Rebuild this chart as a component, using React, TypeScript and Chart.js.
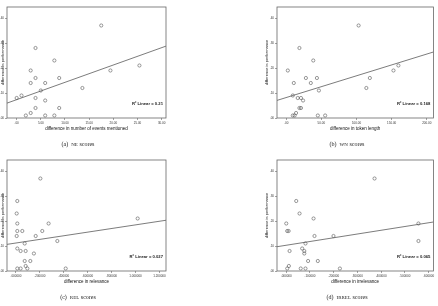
import React, { useEffect, useRef } from "react";
import { Chart, registerables } from "chart.js";

Chart.register(...registerables);

// Shared y axis: difference in performance
const perfTicks = [0, 0.1, 0.2, 0.3, 0.4];
const perfTickLabels = [".00", ".10", ".20", ".30", ".40"];

// (a) NE scores
const neEvents = [0, 1.0, 1.9, 2.9, 2.9, 2.9, 3.9, 3.9, 3.9, 3.9, 5.0, 5.9, 5.9, 5.9, 7.8, 7.8, 8.8, 8.8, 13.6, 17.5, 19.4, 25.4];
const nePerf = [0.08, 0.09, 0.01, 0.19, 0.14, 0.02, 0.28, 0.16, 0.08, 0.04, 0.11, 0.14, 0.07, 0.01, 0.23, 0.01, 0.16, 0.04, 0.12, 0.37, 0.19, 0.21];
const neTicks = [0, 5, 10, 15, 20, 25, 30];
const neTickLabels = [".00", "5.00", "10.00", "15.00", "20.00", "25.00", "30.00"];
const neFit = { intercept: 0.0734, slope: 0.00693 };

// (b) WN scores
const wnLength = [2.3, 9.4, 12, 9.4, 10.8, 14, 16.4, 18.8, 18.8, 21, 21, 24, 28, 35, 38.5, 43.7, 45, 46.5, 55.4, 103, 114, 119, 152.6, 159.6];
const wnPerf = [0.19, 0.01, 0.01, 0.09, 0.14, 0.02, 0.08, 0.28, 0.04, 0.04, 0.08, 0.07, 0.16, 0.14, 0.23, 0.16, 0.01, 0.11, 0.01, 0.37, 0.12, 0.16, 0.19, 0.21];
const wnTicks = [0, 50, 100, 150, 200];
const wnTickLabels = [".00", "50.00", "100.00", "150.00", "200.00"];
const wnFit = { intercept: 0.0818, slope: 0.00087 };

// (c) REL scores
const relDiff = [0.006, 0.011, 0.011, 0.011, 0.006, 0.011, 0.011, 0.039, 0.039, 0.053, 0.073, 0.073, 0.081, 0.081, 0.095, 0.12, 0.15, 0.165, 0.204, 0.22, 0.273, 0.346, 0.416, 1.018];
const relPerf = [0.23, 0.28, 0.19, 0.16, 0.14, 0.09, 0.01, 0.08, 0.01, 0.16, 0.11, 0.04, 0.08, 0.02, 0.01, 0.04, 0.07, 0.14, 0.37, 0.16, 0.19, 0.12, 0.01, 0.21];
const relTicks = [0, 0.2, 0.4, 0.6, 0.8, 1.0, 1.2];
const relTickLabels = [".000000", ".200000", ".400000", ".600000", ".800000", "1.000000", "1.200000"];
const relFit = { intercept: 0.112, slope: 0.0725 };

// (d) IRREL scores
const irrelDiff = [0, 0.004, 0.01, 0.004, 0.011, 0.014, 0.042, 0.056, 0.061, 0.067, 0.076, 0.076, 0.081, 0.081, 0.092, 0.115, 0.119, 0.133, 0.199, 0.226, 0.372, 0.557, 0.557];
const irrelPerf = [0.19, 0.16, 0.16, 0.01, 0.02, 0.08, 0.28, 0.23, 0.01, 0.09, 0.08, 0.07, 0.11, 0.01, 0.04, 0.21, 0.14, 0.04, 0.14, 0.01, 0.37, 0.19, 0.12];
const irrelTicks = [0, 0.1, 0.2, 0.3, 0.4, 0.5, 0.6];
const irrelTickLabels = [".000000", ".100000", ".200000", ".300000", ".400000", ".500000", ".600000"];
const irrelFit = { intercept: 0.103, slope: 0.15 };

const SANS = '"Liberation Sans", Arial, sans-serif';
const PANEL_W = 219;
const PANEL_H = 153;

type Panel = {
  xs: number[];
  ys: number[];
  xMin: number;
  xMax: number;
  xTicks: number[];
  xTickLabels: string[];
  fit: { intercept: number; slope: number };
  r2: string;
  xTitle: string;
  tag: string;
  name: string;
  col: number;
  row: number;
};

const panels: Panel[] = [
  { xs: neEvents, ys: nePerf, xMin: -2.0, xMax: 30.9, xTicks: neTicks, xTickLabels: neTickLabels, fit: neFit, r2: "R² Linear = 0.21", xTitle: "difference in number of events mentioned", tag: "(a)", name: "NE", col: 0, row: 0 },
  { xs: wnLength, ys: wnPerf, xMin: -13.1, xMax: 209.4, xTicks: wnTicks, xTickLabels: wnTickLabels, fit: wnFit, r2: "R² Linear = 0.168", xTitle: "difference in token length", tag: "(b)", name: "WN", col: 1, row: 0 },
  { xs: relDiff, ys: relPerf, xMin: -0.075, xMax: 1.255, xTicks: relTicks, xTickLabels: relTickLabels, fit: relFit, r2: "R² Linear = 0.027", xTitle: "difference in relevance", tag: "(c)", name: "REL", col: 0, row: 1 },
  { xs: irrelDiff, ys: irrelPerf, xMin: -0.039, xMax: 0.62, xTicks: irrelTicks, xTickLabels: irrelTickLabels, fit: irrelFit, r2: "R² Linear = 0.065", xTitle: "difference in irrelevance", tag: "(d)", name: "IRREL", col: 1, row: 1 },
];

// Box around the plot area plus the R² annotation in its lower right corner
const framePlugin = {
  id: "frame",
  afterDraw(chart: any, _args: any, opts: any) {
    const { ctx, chartArea } = chart;
    const { left, top, right, bottom } = chartArea;
    ctx.save();
    ctx.strokeStyle = "#666";
    ctx.lineWidth = 0.8;
    ctx.strokeRect(left, top, right - left, bottom - top);
    ctx.font = `bold 4.2px ${SANS}`;
    ctx.fillStyle = "#222";
    ctx.textAlign = "right";
    ctx.textBaseline = "middle";
    ctx.fillText(opts.label, right - 3, bottom - 14);
    ctx.restore();
  },
};

function ScatterPanel({ p }: { p: Panel }) {
  const ref = useRef<HTMLCanvasElement | null>(null);

  useEffect(() => {
    if (!ref.current) return;
    const isLeft = p.col === 0;
    const points = p.xs.map((x, i) => ({ x, y: p.ys[i] }));
    const fitLine = [p.xMin, p.xMax].map((x) => ({ x, y: p.fit.intercept + p.fit.slope * x }));

    const chart = new Chart(ref.current, {
      type: "scatter",
      data: {
        datasets: [
          {
            data: points,
            pointRadius: 1.6,
            pointBorderWidth: 0.6,
            pointBorderColor: "#555",
            pointBackgroundColor: "rgba(0,0,0,0)",
            showLine: false,
          },
          {
            data: fitLine,
            showLine: true,
            borderColor: "#444",
            borderWidth: 0.7,
            pointRadius: 0,
          },
        ],
      },
      options: {
        animation: false,
        responsive: false,
        devicePixelRatio: 1,
        layout: { padding: { left: isLeft ? 0 : 45, right: isLeft ? 53 : 3, top: 7, bottom: 21 } },
        plugins: {
          legend: { display: false },
          tooltip: { enabled: false },
          frame: { label: p.r2 },
        } as any,
        scales: {
          x: {
            type: "linear",
            min: p.xMin,
            max: p.xMax,
            afterBuildTicks: (s: any) => {
              s.ticks = p.xTicks.map((value) => ({ value }));
            },
            afterFit: (s: any) => {
              s.height = 14;
            },
            ticks: {
              callback: (v: any) => p.xTickLabels[p.xTicks.indexOf(v)] ?? "",
              font: { family: SANS, size: 3 },
              color: "#333",
              padding: 1,
              autoSkip: false,
              maxRotation: 0,
              minRotation: 0,
            },
            grid: { drawOnChartArea: false, drawTicks: true, tickLength: 2, color: "#666", lineWidth: 0.6 },
            border: { display: false },
            title: {
              display: true,
              text: p.xTitle,
              font: { family: SANS, size: 4.5 },
              color: "#111",
              padding: { top: 0, bottom: 1 },
            },
          },
          y: {
            type: "linear",
            min: 0,
            max: 0.444,
            afterBuildTicks: (s: any) => {
              s.ticks = perfTicks.map((value) => ({ value }));
            },
            afterFit: (s: any) => {
              s.width = isLeft ? 7 : 13;
            },
            ticks: {
              callback: (v: any) => perfTickLabels[perfTicks.indexOf(v)] ?? "",
              font: { family: SANS, size: 3 },
              color: "#333",
              padding: 1,
              autoSkip: false,
            },
            grid: { drawOnChartArea: false, drawTicks: true, tickLength: 2, color: "#666", lineWidth: 0.6 },
            border: { display: false },
            title: {
              display: true,
              text: "difference in performance",
              font: { family: SANS, size: 4 },
              color: "#111",
              padding: 0,
            },
          },
        },
      } as any,
      plugins: [framePlugin],
    });

    return () => chart.destroy();
  }, [p]);

  return (
    <div style={{ position: "absolute", left: p.col * PANEL_W, top: p.row * PANEL_H, width: PANEL_W, height: PANEL_H }}>
      <canvas ref={ref} width={PANEL_W} height={PANEL_H} style={{ width: PANEL_W, height: PANEL_H, display: "block" }} />
      <div
        style={{
          position: "absolute",
          left: (p.col === 0 ? 78 : 128) - 50,
          top: 140,
          width: 100,
          textAlign: "center",
          fontFamily: '"Liberation Serif", "Times New Roman", serif',
          fontSize: 6,
          lineHeight: "8px",
          color: "#222",
          whiteSpace: "nowrap",
        }}
      >
        {p.tag}&nbsp; <span style={{ fontSize: 5 }}>{p.name}</span> scores
      </div>
    </div>
  );
}

export default function App() {
  return (
    <div style={{ position: "absolute", left: 0, top: 0, width: 438, height: 306, background: "#fff", overflow: "hidden" }}>
      {panels.map((p) => (
        <ScatterPanel key={p.tag} p={p} />
      ))}
    </div>
  );
}
